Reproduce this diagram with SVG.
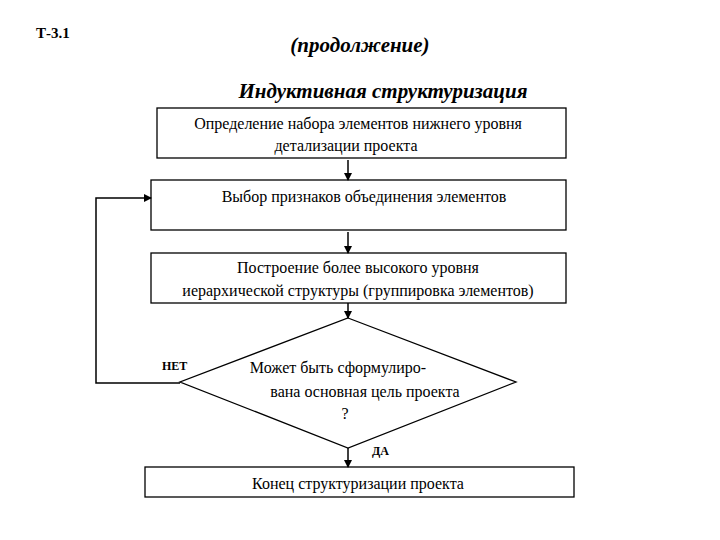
<svg xmlns="http://www.w3.org/2000/svg" width="720" height="540" viewBox="0 0 720 540">
<style>
.b{fill:#fff;stroke:#000;stroke-width:1.3}
.t{font-family:'Liberation Serif','DejaVu Serif',serif;font-size:16px;fill:#000;text-anchor:middle}
.h{font-family:'Liberation Serif','DejaVu Serif',serif;font-weight:bold;font-style:italic;font-size:21px;text-anchor:middle;fill:#000}
.l{font-family:'Liberation Serif','DejaVu Serif',serif;font-weight:bold;font-size:12px;fill:#000}
.c{fill:none;stroke:#000;stroke-width:1.5}
</style>
<defs><marker id="a" markerWidth="8" markerHeight="8" refX="7" refY="4" orient="auto" markerUnits="userSpaceOnUse"><path d="M0,0 L8,4 L0,8Z"/></marker></defs>
<rect width="720" height="540" fill="#fff"/>
<text x="36" y="38" class="l" style="font-size:15px">Т-3.1</text>
<text x="360" y="52" class="h">(продолжение)</text>
<text x="383" y="98" class="h">Индуктивная структуризация</text>
<g id="n1"><rect class="b" x="157" y="108" width="409" height="50"/><text class="t" x="358" y="129">Определение  набора элементов нижнего уровня</text><text class="t" x="346" y="151">детализации проекта</text></g>
<g id="n2"><rect class="b" x="151" y="180" width="415" height="50"/><text class="t" x="364" y="202">Выбор признаков объединения  элементов</text></g>
<g id="n3"><rect class="b" x="151" y="253" width="415" height="50"/><text class="t" x="358" y="273">Построение более высокого уровня</text><text class="t" x="358" y="296">иерархической структуры (группировка элементов)</text></g>
<g id="n4"><polygon class="b" points="348,318 516,382 348,448 180,382"/><text class="t" x="338" y="373">Может быть сформулиро-</text><text class="t" x="365" y="397">вана основная цель проекта</text><text class="t" x="345" y="419">?</text></g>
<g id="n5"><rect class="b" x="145" y="467" width="429" height="30"/><text class="t" x="358" y="489">Конец  структуризации проекта</text></g>
<g id="conn">
<line class="c" x1="348" y1="160" x2="348" y2="180" marker-end="url(#a)"/>
<line class="c" x1="348" y1="232" x2="348" y2="253" marker-end="url(#a)"/>
<line class="c" x1="348" y1="303" x2="348" y2="318" marker-end="url(#a)"/>
<line class="c" x1="348" y1="448" x2="348" y2="467" marker-end="url(#a)"/>
<polyline class="c" points="180,383 96,383 96,198 151,198" marker-end="url(#a)"/>
</g>
<text x="162" y="370" class="l">НЕТ</text>
<text x="372" y="455" class="l">ДА</text>
</svg>
